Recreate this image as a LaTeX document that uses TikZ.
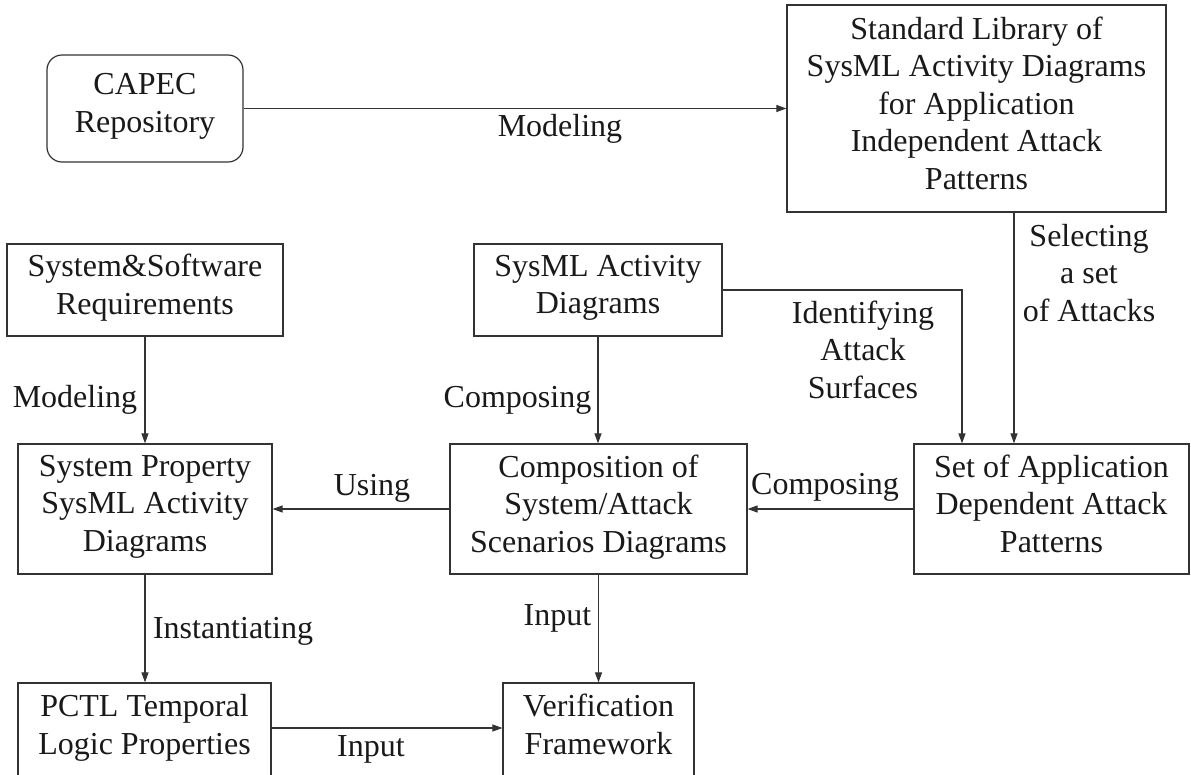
\documentclass[tikz,border=0pt]{standalone}
\usepackage{fontspec}
\setmainfont{Liberation Serif}
\usetikzlibrary{arrows.meta}
\newcommand\diagfont{\fontsize{32}{37.5}\selectfont}
\begin{document}
\begin{tikzpicture}[x=1pt,y=-1pt,
  box/.style={draw=black!80, line width=1.2pt, inner sep=0pt, align=center, font=\diagfont, text=black!90,
    execute at begin node=\strut, execute at end node=\strut},
  lbl/.style={inner sep=0pt, align=center, font=\diagfont, text=black!90,
    execute at begin node=\strut, execute at end node=\strut},
  conn/.style={draw=black!80, line width=1.1pt, -{Triangle[length=10pt,width=7pt]}}]
\useasboundingbox (0,0) rectangle (1191,774);

% boxes
\node[box, rounded corners=15pt, minimum width=196pt, minimum height=107pt] (capec) at (145,108.5) {CAPEC\\Repository};
\node[box, minimum width=379pt, minimum height=207pt] (std) at (976.5,108.5) {Standard Library of\\SysML Activity Diagrams\\for Application\\Independent Attack\\Patterns};
\node[box, minimum width=276pt, minimum height=92pt] (req) at (145,290) {System\&Software\\Requirements};
\node[box, minimum width=248pt, minimum height=92pt] (sysml) at (598,290) {SysML Activity\\Diagrams};
\node[box, minimum width=254pt, minimum height=130pt] (prop) at (145,509) {System Property\\SysML Activity\\Diagrams};
\node[box, minimum width=297pt, minimum height=130pt] (comp) at (598.5,509) {Composition of\\System/Attack\\Scenarios Diagrams};
\node[box, minimum width=275pt, minimum height=130pt] (set) at (1051.5,509) {Set of Application\\Dependent Attack\\Patterns};
\node[box, minimum width=253pt, minimum height=94pt] (pctl) at (144.5,730) {PCTL Temporal\\Logic Properties};
\node[box, minimum width=191pt, minimum height=94pt] (verif) at (598.5,730) {Verification\\Framework};

% connectors
\coordinate (selx) at ([xshift=37.5pt]std.south);
\coordinate (idc) at (962,290);
\draw[conn] (capec.east) -- (std.west);
\draw[conn] (selx) -- (selx |- set.north);
\draw[conn] (sysml.east) -- (idc) -- (idc |- set.north);
\draw[conn] (set.west) -- (comp.east);
\draw[conn] (req.south) -- (prop.north);
\draw[conn] (sysml.south) -- (sysml.south |- comp.north);
\draw[conn] (comp.west) -- (prop.east);
\draw[conn] (prop.south) -- (prop.south |- pctl.north);
\draw[conn] (comp.south) -- (verif.north);
\draw[conn] ([yshift=2pt]pctl.east) -- ([yshift=2pt]pctl.east -| verif.west);

% labels
\node[lbl, anchor=base] (lmod1) at (560,136) {Modeling};
\node[lbl, anchor=north] (lsel) at (1089,223.75) {Selecting\\a set\\of Attacks};
\node[lbl, anchor=north] (lid) at (863,300.75) {Identifying\\Attack\\Surfaces};
\node[lbl, anchor=base] (lmod2) at (75,407) {Modeling};
\node[lbl, anchor=base] (lcomp1) at (517.5,407) {Composing};
\node[lbl, anchor=base] (lusing) at (372,495) {Using};
\node[lbl, anchor=base] (lcomp2) at (825,494) {Composing};
\node[lbl, anchor=base] (linst) at (233,638) {Instantiating};
\node[lbl, anchor=base] (lin1) at (557.5,625) {Input};
\node[lbl, anchor=base] (lin2) at (371,756) {Input};
\end{tikzpicture}
\end{document}
